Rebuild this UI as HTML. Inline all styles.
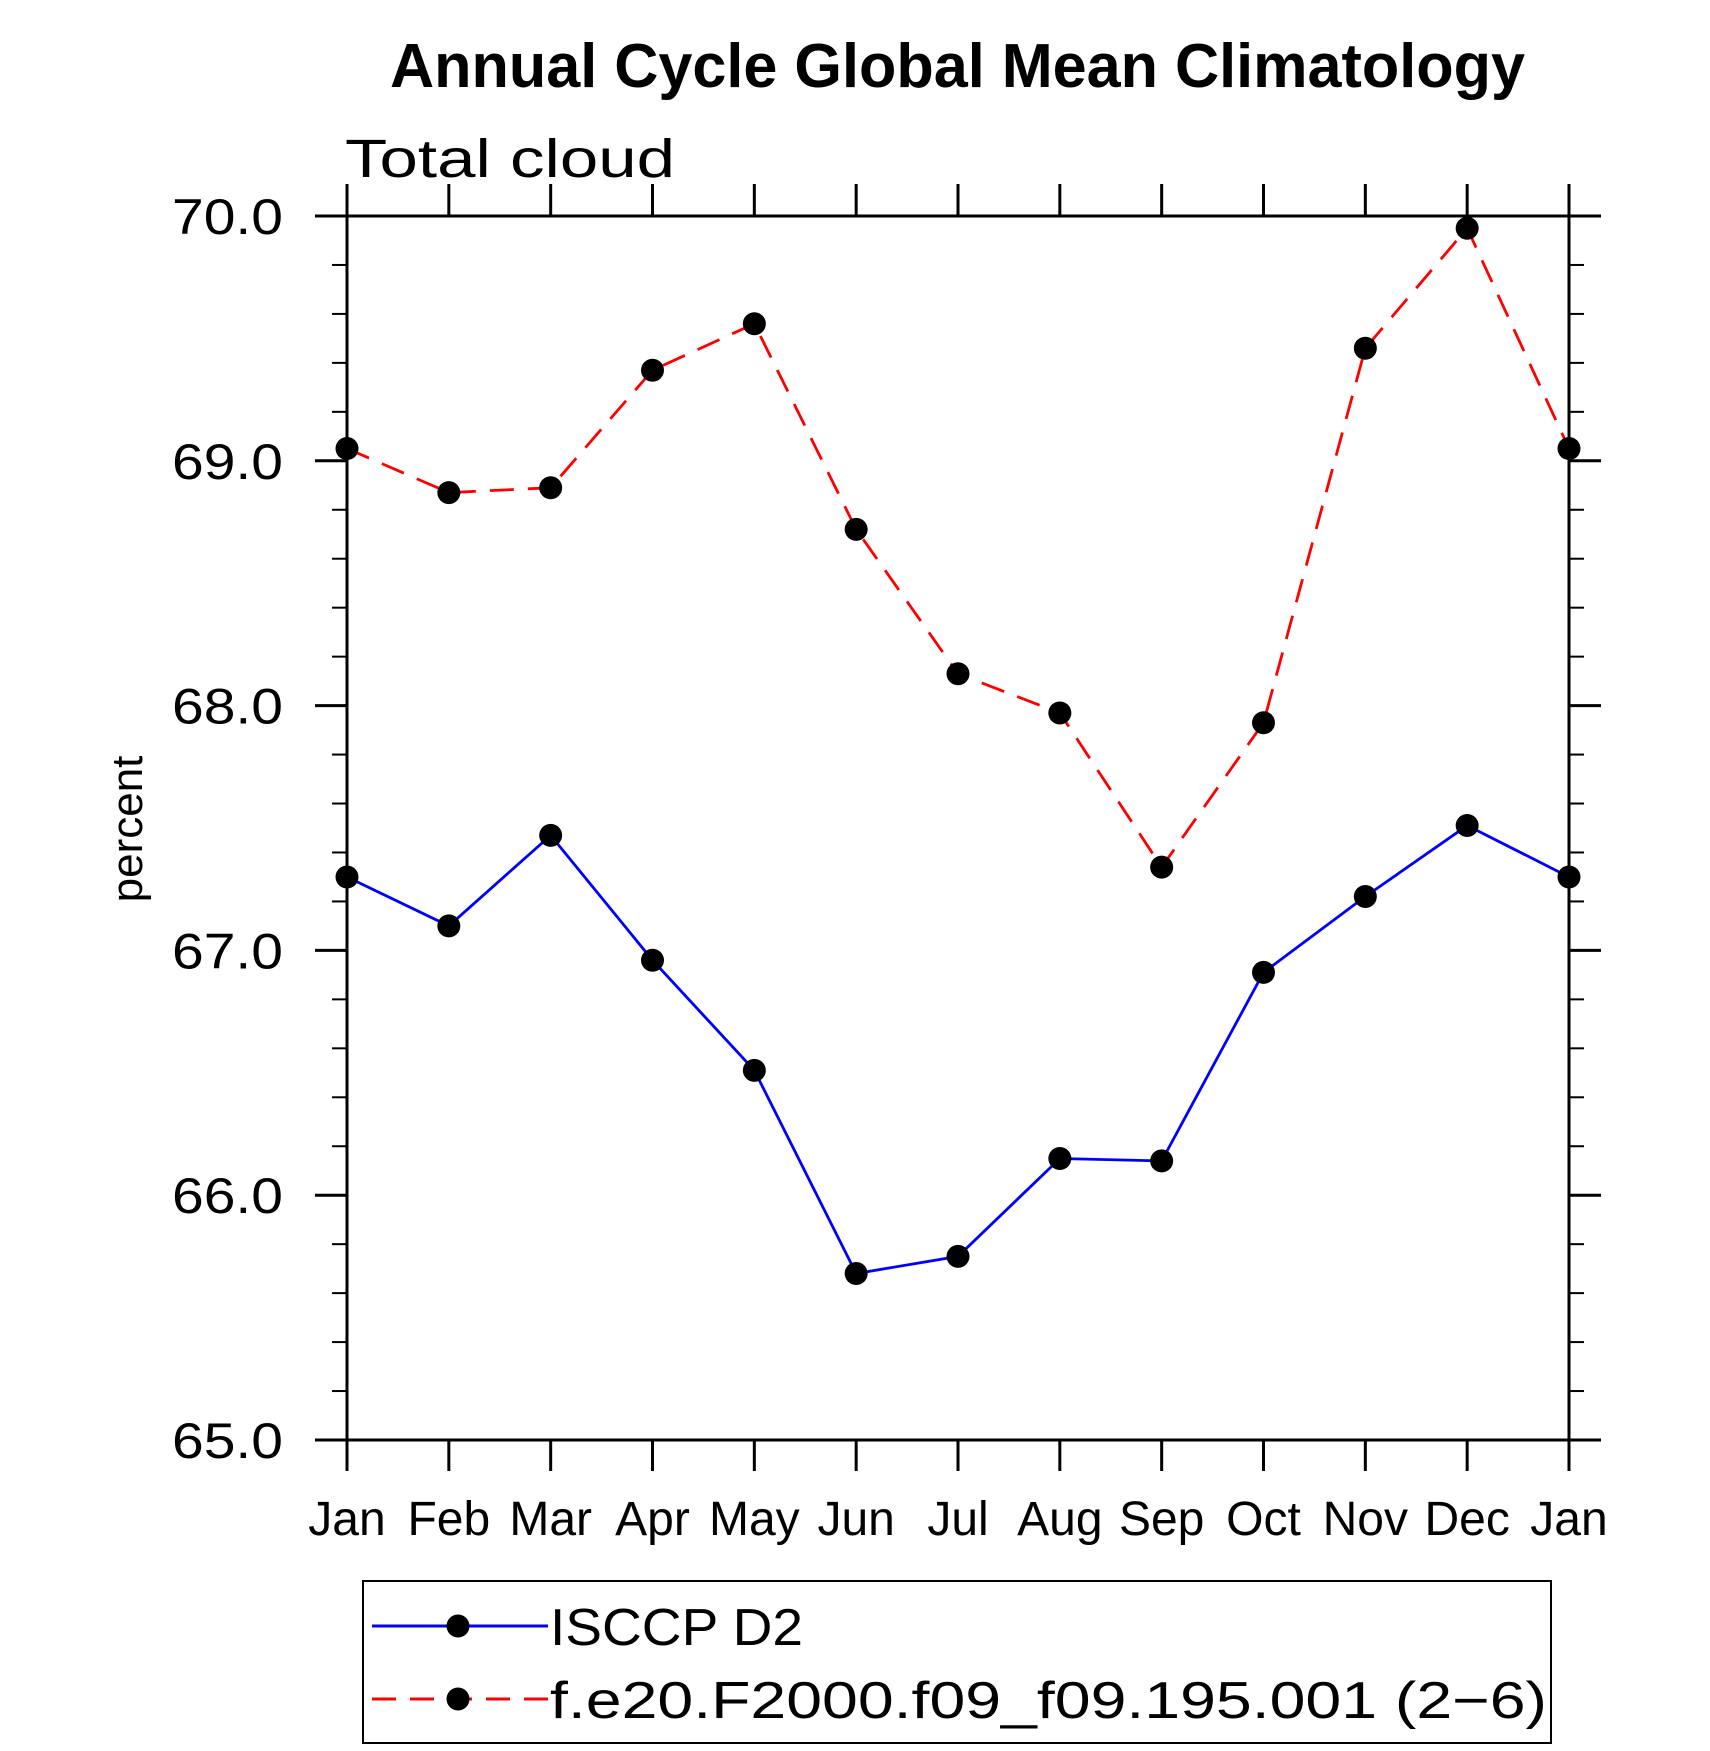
<!DOCTYPE html>
<html><head><meta charset="utf-8"><style>
html,body{margin:0;padding:0;background:#fff;}
svg{display:block;font-family:"Liberation Sans",sans-serif;}
</style></head><body>
<svg id="chart" width="1710" height="1751" viewBox="0 0 1710 1751">
<text x="390" y="87" font-size="62" font-weight="bold" textLength="1135" lengthAdjust="spacingAndGlyphs">Annual Cycle Global Mean Climatology</text>
<text x="345" y="177" font-size="54" textLength="330" lengthAdjust="spacingAndGlyphs">Total cloud</text>
<text transform="translate(142,829) rotate(-90)" text-anchor="middle" font-size="44">percent</text>
<g id="axes"></g>
<g id="series"></g>
<g id="legend">
<rect x="363" y="1581" width="1188" height="162" fill="none" stroke="#000" stroke-width="2"/>
<g>
<line x1="372" y1="1626" x2="548" y2="1626" stroke="#0000ff" stroke-width="3"/>
<circle cx="458" cy="1626" r="11.5" fill="#000"/>
<text x="550" y="1645" font-size="52" textLength="253" lengthAdjust="spacingAndGlyphs">ISCCP D2</text>
</g>
<g>
<line x1="372" y1="1699" x2="548" y2="1699" stroke="#ff0000" stroke-width="3" stroke-dasharray="24 14"/>
<circle cx="458" cy="1699" r="11.5" fill="#000"/>
<text x="550" y="1718" font-size="52" textLength="997" lengthAdjust="spacingAndGlyphs">f.e20.F2000.f09_f09.195.001 (2−6)</text>
</g>
</g>
</svg>
<script>
const months = ["Jan","Feb","Mar","Apr","May","Jun","Jul","Aug","Sep","Oct","Nov","Dec","Jan"];
const isccpValues = [67.30,67.10,67.47,66.96,66.51,65.68,65.75,66.15,66.14,66.91,67.22,67.51,67.30];
const modelValues = [69.05,68.87,68.89,69.37,69.56,68.72,68.13,67.97,67.34,67.93,69.46,69.95,69.05];
const yTicks = [65,66,67,68,69,70];
const yTickLabels = ["65.0","66.0","67.0","68.0","69.0","70.0"];

const NS = "http://www.w3.org/2000/svg";
const X0 = 347, X1 = 1569, Y0 = 1440, Y1 = 216, YMIN = 65, YMAX = 70;
function xs(i){ return X0 + (X1 - X0) * i / (months.length - 1); }
function ys(v){ return Y0 - (Y0 - Y1) * (v - YMIN) / (YMAX - YMIN); }
function mk(tag, attrs, parent){
  const e = document.createElementNS(NS, tag);
  for (const k in attrs) e.setAttribute(k, attrs[k]);
  parent.appendChild(e);
  return e;
}
const axes = document.getElementById("axes");
const frame = mk("rect", {x:X0, y:Y1, width:X1-X0, height:Y0-Y1, fill:"none", stroke:"#000", "stroke-width":3}, axes);


months.forEach((m, i) => {
  const x = xs(i);
  mk("line", {x1:x, y1:Y0, x2:x, y2:Y0+31, stroke:"#000", "stroke-width":3}, axes);
  mk("line", {x1:x, y1:Y1, x2:x, y2:Y1-32, stroke:"#000", "stroke-width":3}, axes);
  const t = mk("text", {x:x, y:1535, "text-anchor":"middle", "font-size":48}, axes);
  t.textContent = m;
  
  
});
for (let v = YMIN; v <= YMAX + 1e-6; v += 0.2) {
  const y = ys(v);
  const major = Math.abs(v - Math.round(v)) < 1e-6;
  const len = major ? 32 : 15;
  mk("line", {x1:X0-len, y1:y, x2:X0, y2:y, stroke:"#000", "stroke-width":major?3:2}, axes);
  mk("line", {x1:X1, y1:y, x2:X1+len, y2:y, stroke:"#000", "stroke-width":major?3:2}, axes);
}
yTicks.forEach((v, i) => {
  const t = mk("text", {x:283, y:ys(v)+18, "text-anchor":"end", "font-size":50, textLength:111, lengthAdjust:"spacingAndGlyphs"}, axes);
  t.textContent = yTickLabels[i];
  
  
});
const series = document.getElementById("series");
function drawSeries(vals, color, dash, name){
  const pts = vals.map((v, i) => xs(i) + "," + ys(v)).join(" ");
  const pl = mk("polyline", {points:pts, fill:"none", stroke:color, "stroke-width":2.8}, series);
  if (dash) pl.setAttribute("stroke-dasharray", dash);
  
  
  vals.forEach((v, i) => {
    const c = mk("circle", {cx:xs(i), cy:ys(v), r:11.5, fill:"#000"}, series);
    
    
  });
}
drawSeries(isccpValues, "#0000ff", null, "isccp");
drawSeries(modelValues, "#ff0000", "24 14", "model");
</script>
</body></html>
